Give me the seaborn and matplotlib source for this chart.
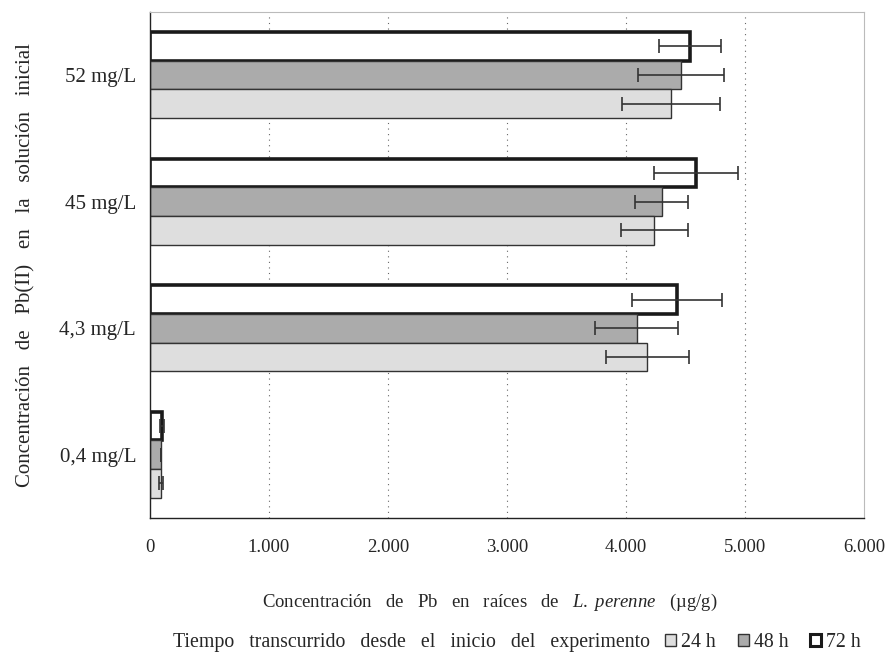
import numpy as np
import pandas as pd
import seaborn as sns
import matplotlib.pyplot as plt
from matplotlib.patches import Patch

# Data (ug/g)
categories = ['52 mg/L', '45 mg/L', '4,3 mg/L', '0,4 mg/L']
tiempos = ['72 h', '48 h', '24 h']
val_24h = [4380, 4240, 4180, 95]
val_48h = [4460, 4300, 4090, 90]
val_72h = [4540, 4590, 4430, 100]
err_24h = [410, 280, 350, 15]
err_48h = [360, 220, 350, 0]
err_72h = [260, 350, 380, 15]
xticks = [0, 1000, 2000, 3000, 4000, 5000, 6000]
xtick_labels = ['0', '1.000', '2.000', '3.000', '4.000', '5.000', '6.000']

sns.set_theme(style='white')
plt.rcParams['font.family'] = ['Liberation Serif', 'DejaVu Serif']
plt.rcParams['mathtext.fontset'] = 'custom'
plt.rcParams['mathtext.rm'] = 'Liberation Serif'
plt.rcParams['mathtext.it'] = 'Liberation Serif:italic'


def wide(s, sep=' \u2002'):
    # the scanned original is typeset with wide word spacing
    return s.replace(' ', sep)


df = pd.DataFrame({
    'conc': categories * 3,
    'tiempo': ['24 h'] * 4 + ['48 h'] * 4 + ['72 h'] * 4,
    'valor': val_24h + val_48h + val_72h,
})
errs = {'24 h': err_24h, '48 h': err_48h, '72 h': err_72h}
colors = {'24 h': '#dedede', '48 h': '#ababab', '72 h': '#ffffff'}

fig = plt.figure(figsize=(8.87, 6.59), dpi=100)
ax = fig.add_axes([0.169, 0.214, 0.805, 0.768])

sns.barplot(data=df, x='valor', y='conc', hue='tiempo', hue_order=tiempos,
            order=categories, orient='h', palette=colors, errorbar=None,
            width=0.68, edgecolor='#333333', linewidth=1.0, legend=False, ax=ax)

for cont, t in zip(ax.containers, tiempos):
    ys = [b.get_y() + b.get_height() / 2 for b in cont]
    xs = [b.get_width() for b in cont]
    if t == '72 h':
        for b in cont:
            b.set_linewidth(2.6)
            b.set_edgecolor('#1a1a1a')
    ax.errorbar(xs, ys, xerr=errs[t], fmt='none', ecolor='#333333',
                elinewidth=1.2, capsize=5, capthick=1.2, zorder=5)

ax.set_xlim(0, 6000)
ax.set_ylim(3.5, -0.5)
ax.set_xticks(xticks)
ax.set_xticklabels(xtick_labels, fontsize=13.5)
ax.tick_params(axis='x', direction='out', length=4, color='#333333', pad=11)
ax.set_yticks(range(len(categories)))
ax.set_yticklabels(categories, fontsize=15)
ax.tick_params(axis='y', length=0, pad=10)
ax.set_yticks([0.5, 1.5, 2.5, 3.5], minor=True)
ax.tick_params(axis='y', which='minor', direction='out', length=4, color='#333333')
for x in xticks[1:-1]:
    ax.axvline(x, color='#666666', linestyle=(0, (1, 4)), linewidth=0.8, zorder=0)

for side in ['left', 'bottom']:
    ax.spines[side].set_color('#222222')
    ax.spines[side].set_linewidth(1.0)
for side in ['top', 'right']:
    ax.spines[side].set_color('#bbbbbb')
    ax.spines[side].set_linewidth(0.8)

ax.set_xlabel(wide('Concentración de Pb en raíces de ') + r'$\mathit{L.\ perenne}$' + wide(' (µg/g)'),
              fontsize=13.5)
ax.xaxis.set_label_coords(0.476, -0.147)
ax.set_ylabel(wide('Concentración de Pb(II) en la solución inicial'), fontsize=15,
              labelpad=17)

fig.text(0.195, 0.0243, wide('Tiempo transcurrido desde el inicio del experimento'),
         fontsize=14.3, va='center', ha='left')
handles = [Patch(facecolor=colors['24 h'], edgecolor='#333333', linewidth=1.0),
           Patch(facecolor=colors['48 h'], edgecolor='#333333', linewidth=1.0),
           Patch(facecolor=colors['72 h'], edgecolor='#1a1a1a', linewidth=2.2)]
fig.legend(handles, ['24 h', '48 h', '72 h'], loc='center left',
           bbox_to_anchor=(0.75, 0.0243), ncol=3, frameon=False, fontsize=14.3,
           handlelength=0.55, handleheight=0.55, handletextpad=0.25, columnspacing=1.1,
           borderpad=0, borderaxespad=0)

fig.savefig('out.png', dpi=100)
